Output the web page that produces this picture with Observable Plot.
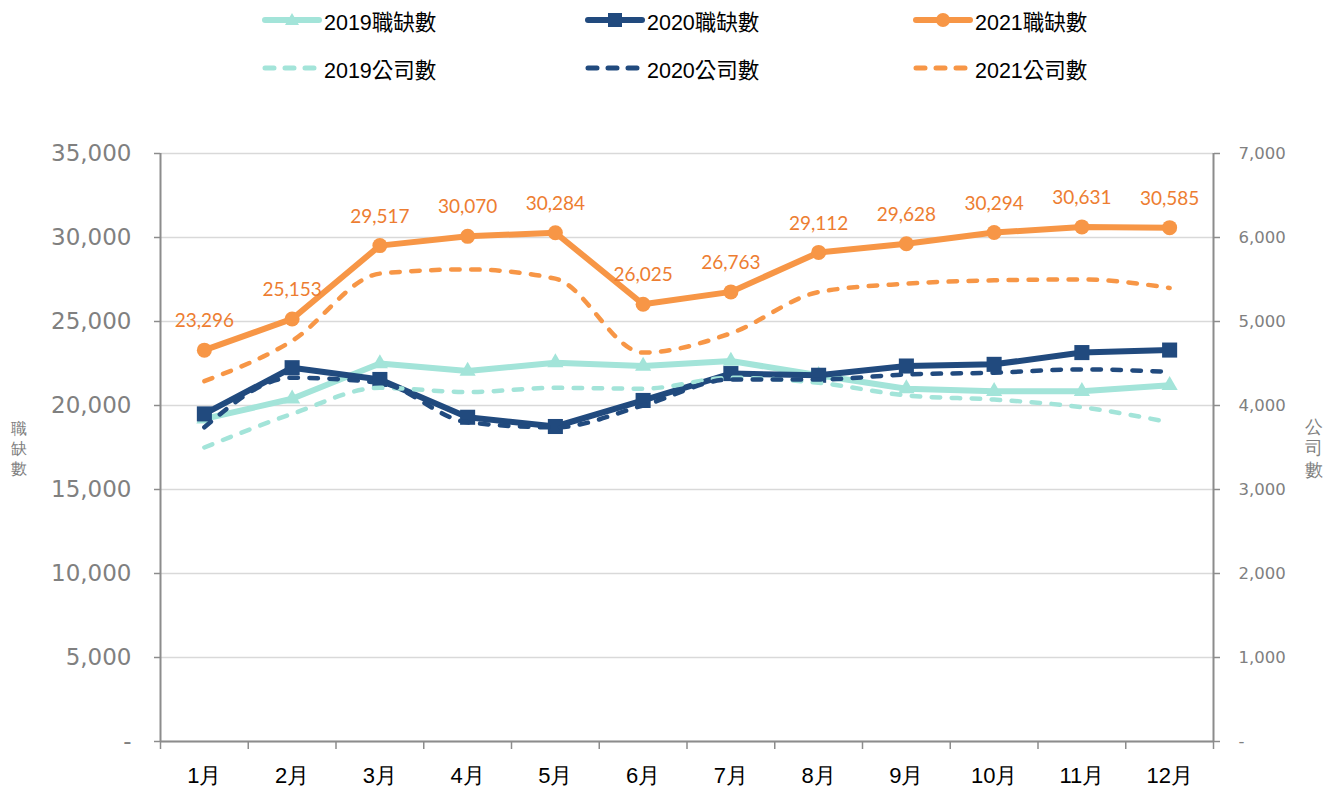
<!DOCTYPE html>
<html>
<head>
<meta charset="utf-8">
<script src="https://cdn.jsdelivr.net/npm/d3@7"></script>
<script src="https://cdn.jsdelivr.net/npm/@observablehq/plot@0.6"></script>
<style>
  html, body { margin: 0; padding: 0; background: #fff; }
  #legend { position: relative; width: 1341px; height: 100px; font-family: "Liberation Sans Narrow", "Arial Narrow", "Liberation Sans", "Noto Sans CJK TC", sans-serif; }
  .item { position: absolute; display: flex; align-items: center; height: 30px; font-size: 21.5px; color: #000; }
  .item svg { display: block; margin-right: 2px; }
</style>
</head>
<body>
<div id="legend"></div>
<div id="chart"></div>
<script>
const months = ["1月","2月","3月","4月","5月","6月","7月","8月","9月","10月","11月","12月"];
const jobs2019 = [19200, 20400, 22500, 22050, 22550, 22350, 22650, 21800, 21000, 20850, 20850, 21200];
const jobs2020 = [19500, 22250, 21550, 19300, 18750, 20300, 21900, 21800, 22350, 22450, 23150, 23300];
const jobs2021 = [23296, 25153, 29517, 30070, 30284, 26025, 26763, 29112, 29628, 30294, 30631, 30585];
const cos2019 = [3500, 3900, 4210, 4160, 4210, 4200, 4330, 4270, 4120, 4070, 3980, 3800];
const cos2020 = [3740, 4330, 4270, 3800, 3740, 4000, 4310, 4310, 4370, 4390, 4430, 4400];
const cos2021 = [4290, 4770, 5570, 5620, 5510, 4630, 4860, 5350, 5450, 5490, 5500, 5400];
const leftTicks = [0, 5000, 10000, 15000, 20000, 25000, 30000, 35000];
const rightTicks = [0, 1000, 2000, 3000, 4000, 5000, 6000, 7000];
const seriesNames = ["2019職缺數", "2020職缺數", "2021職缺數", "2019公司數", "2020公司數", "2021公司數"];

const C19 = "#a3e4d9", C20 = "#214a7e", C21 = "#f79646", LBL = "#ed7d31";
const RATIO = 5; // left 35,000 <-> right 7,000
const rows = arr => arr.map((v, i) => ({x: i + 1, v}));
const rowsR = arr => arr.map((v, i) => ({x: i + 1, v: v * RATIO, raw: v}));
const fmt = d3.format(",");

// Legend
const legendItems = [
  {name: seriesNames[0], color: C19, dash: false, sym: "tri", left: 262, top: 5},
  {name: seriesNames[1], color: C20, dash: false, sym: "sq", left: 585, top: 5},
  {name: seriesNames[2], color: C21, dash: false, sym: "circ", left: 913, top: 5},
  {name: seriesNames[3], color: C19, dash: true, left: 262, top: 53},
  {name: seriesNames[4], color: C20, dash: true, left: 585, top: 53},
  {name: seriesNames[5], color: C21, dash: true, left: 913, top: 53}
];
const leg = document.getElementById("legend");
for (const it of legendItems) {
  const div = document.createElement("div");
  div.className = "item";
  div.style.left = it.left + "px";
  div.style.top = it.top + "px";
  let marker = "";
  if (it.sym === "tri") marker = `<path d="M30,3 L37,15 L23,15 Z" fill="${it.color}"/>`;
  if (it.sym === "sq") marker = `<rect x="23" y="3" width="14" height="14" fill="${it.color}"/>`;
  if (it.sym === "circ") marker = `<circle cx="30" cy="10" r="7" fill="${it.color}"/>`;
  const line = it.dash
    ? `<line x1="3" y1="10" x2="57" y2="10" stroke="${it.color}" stroke-width="5" stroke-linecap="round" stroke-dasharray="9,11"/>`
    : `<line x1="3" y1="10" x2="57" y2="10" stroke="${it.color}" stroke-width="6" stroke-linecap="round"/>`;
  div.innerHTML = `<svg width="60" height="20">${line}${marker}</svg><span>${it.name}</span>`;
  leg.appendChild(div);
}

const axisGray = "#8c8c8c";
const dashOpts = {strokeWidth: 4.5, strokeDasharray: "8.5,11.5", strokeLinecap: "round", curve: "monotone-x"};

const chart = Plot.plot({
  width: 1341,
  height: 699,
  marginTop: 53,
  marginBottom: 58,
  marginLeft: 160,
  marginRight: 128,
  x: {domain: [0.5, 12.5]},
  y: {domain: [0, 35000]},
  style: {fontFamily: "'DejaVu Sans', sans-serif", background: "#fff"},
  marks: [
    Plot.gridY(leftTicks, {stroke: "#d9d9d9", strokeOpacity: 1, strokeWidth: 1.5}),
    Plot.axisY({anchor: "left", ticks: leftTicks, tickSize: 6, tickPadding: 23, label: null,
      tickFormat: d => d === 0 ? "-" : fmt(d), fontSize: 23, fill: "#808080", stroke: axisGray, strokeWidth: 1.5}),
    Plot.axisY({anchor: "right", ticks: leftTicks, tickSize: 6, tickPadding: 19, label: null,
      tickFormat: d => d === 0 ? "-" : fmt(d / RATIO), fontSize: 16.5, fill: "#808080", stroke: axisGray, strokeWidth: 1.5}),
    Plot.axisX({ticks: d3.range(0.5, 13, 1), tickSize: 8, tickFormat: () => "", label: null, stroke: axisGray, strokeWidth: 1.5}),
    Plot.axisX({ticks: d3.range(1, 13), tickSize: 0, tickPadding: 26, label: null,
      tickFormat: d => months[d - 1], fontSize: 22, fill: "#000",
      fontFamily: "'Liberation Sans Narrow', 'Arial Narrow', 'Liberation Sans', sans-serif"}),
    Plot.ruleX([0.5, 12.5], {stroke: axisGray, strokeWidth: 2}),
    Plot.ruleY([0], {stroke: axisGray, strokeWidth: 2}),
    // 職缺數 (left axis)
    Plot.line(rows(jobs2019), {x: "x", y: "v", stroke: C19, strokeWidth: 6}),
    Plot.dot(rows(jobs2019), {x: "x", y: "v", fill: C19, symbol: "triangle", r: 6}),
    Plot.line(rows(jobs2020), {x: "x", y: "v", stroke: C20, strokeWidth: 6}),
    Plot.dot(rows(jobs2020), {x: "x", y: "v", fill: C20, symbol: "square", r: 8.5}),
    Plot.line(rows(jobs2021), {x: "x", y: "v", stroke: C21, strokeWidth: 6}),
    Plot.dot(rows(jobs2021), {x: "x", y: "v", fill: C21, r: 7.5}),
    // 公司數 (right axis)
    Plot.line(rowsR(cos2019), {x: "x", y: "v", stroke: C19, ...dashOpts}),
    Plot.line(rowsR(cos2020), {x: "x", y: "v", stroke: C20, ...dashOpts}),
    Plot.line(rowsR(cos2021), {x: "x", y: "v", stroke: C21, ...dashOpts}),
    // data labels
    Plot.text(rows(jobs2021), {x: "x", y: "v", text: d => fmt(d.v), dy: -29, fill: LBL, fontSize: 19,
      fontFamily: "Lato, 'Open Sans', sans-serif"}),
    // axis titles
    Plot.text(["職\n缺\n數"], {frameAnchor: "left", dx: -142, text: d => d, fontSize: 16, lineHeight: 1.25, fill: "#7f7f7f", textAnchor: "middle"}),
    Plot.text(["公\n司\n數"], {frameAnchor: "right", dx: 100, text: d => d, fontSize: 18, lineHeight: 1.2, fill: "#7f7f7f", textAnchor: "middle"})
  ]
});
document.getElementById("chart").appendChild(chart);
</script>
</body>
</html>
